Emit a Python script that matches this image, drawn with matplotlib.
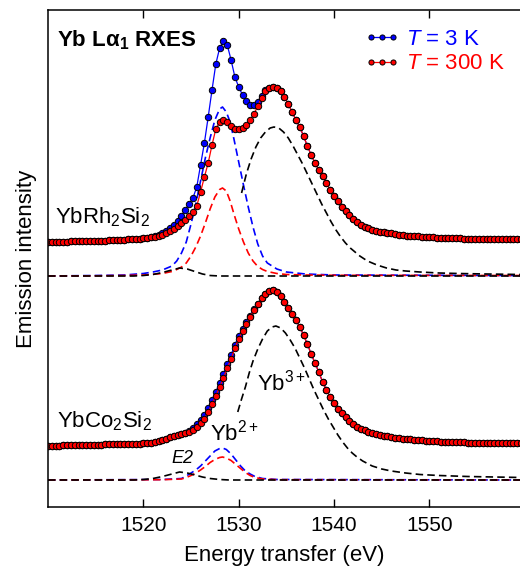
import matplotlib
matplotlib.use("Agg")
import matplotlib.pyplot as plt
from matplotlib.legend_handler import HandlerLine2D
import numpy as np

plt.rcParams["font.family"] = ["Liberation Sans", "DejaVu Sans"]
plt.rcParams["mathtext.fontset"] = "custom"
plt.rcParams["mathtext.rm"] = "Liberation Sans"
plt.rcParams["mathtext.it"] = "Liberation Sans:italic"
plt.rcParams["mathtext.bf"] = "Liberation Sans:bold"

# measured RXES spectra, energy grid of the scan (eV)
energy = np.round(np.arange(1510.0, 1559.7, 0.4), 2)

rh_300k = [
    265.0, 265.0, 265.2, 265.3, 265.3, 265.5, 265.6, 265.6, 265.8, 266.0,
    266.0, 266.1, 266.2, 266.2, 266.4, 266.5, 266.6, 266.8, 267.0, 267.1,
    267.4, 267.6, 267.9, 268.2, 268.5, 268.9, 269.2, 269.6, 270.0, 271.0,
    272.5, 274.0, 276.0, 278.5, 281.0, 284.0, 287.0, 291.0, 295.0, 301.0,
    315, 330, 344, 362, 378, 385, 387, 385, 381, 378.5,
    378, 379.5, 382.5, 387, 393, 401, 409, 416, 419.5, 420,
    419, 416, 410, 403, 395, 387, 380, 371, 361, 352,
    344, 337, 331, 324, 317, 311, 306, 300, 296, 292,
    288, 285, 282.5, 280.5, 279, 277.5, 276.5, 275.5, 274.8, 274.2,
    273.6, 273.0, 272.5, 272.0, 271.5, 271.2, 270.9, 270.6, 270.3, 270.0,
    269.8, 269.6, 269.4, 269.2, 269.0, 268.9, 268.8, 268.7, 268.6, 268.5,
    268.4, 268.4, 268.3, 268.3, 268.2, 268.2, 268.1, 268.1, 268.0, 268.0,
    268.0, 267.9, 267.9, 267.9, 267.8,
]
rh_3k = [
    265.0, 265.0, 265.2, 265.3, 265.3, 265.5, 265.6, 265.6, 265.8, 266.0,
    266.0, 266.1, 266.2, 266.2, 266.4, 266.5, 266.6, 266.8, 267.0, 267.1,
    267.4, 267.6, 267.9, 268.2, 268.5, 269.0, 269.5, 270.0, 271.0, 272.0,
    274, 276, 279, 282.5, 286.5, 291, 297, 303, 309, 320,
    342, 364, 390, 417, 443, 459, 466, 462, 447, 430,
    420, 412, 406, 402.5, 402.5, 405, 411, 417, 419.5, 420,
    419, 416, 410, 403, 395, 387, 380, 371, 361, 352,
    344, 337, 331, 324, 317, 311, 306, 300, 296, 292,
    288, 285, 282.5, 280.5, 279, 277.5, 276.5, 275.5, 274.8, 274.2,
    273.6, 273.0, 272.5, 272.0, 271.5, 271.2, 270.9, 270.6, 270.3, 270.0,
    269.8, 269.6, 269.4, 269.2, 269.0, 268.9, 268.8, 268.7, 268.6, 268.5,
    268.4, 268.4, 268.3, 268.3, 268.2, 268.2, 268.1, 268.1, 268.0, 268.0,
    268.0, 267.9, 267.9, 267.9, 267.8,
]
co_300k = [
    61.3, 61.4, 61.5, 61.5, 61.6, 61.7, 61.8, 61.9, 62.0, 62.0,
    62.1, 62.2, 62.3, 62.4, 62.5, 62.6, 62.7, 62.8, 62.9, 63.0,
    63.1, 63.2, 63.3, 63.4, 63.5, 63.6, 64.0, 64.5, 65.3, 66.3,
    67.5, 68.5, 70.0, 71.0, 72.0, 73.0, 74.0, 75.5, 77.0, 80.0,
    84, 88, 95, 103, 111, 120, 129, 139, 148, 159,
    168, 176, 183, 190, 197, 203, 209, 213, 216, 217,
    215, 211, 205, 199, 193, 187, 180, 172, 163, 153,
    144, 135, 125, 117, 110, 104, 98, 94, 90, 86,
    83, 80.5, 78.5, 77, 75.5, 74.3, 73.2, 72.2, 71.3, 70.6,
    70.0, 69.4, 68.9, 68.4, 68.0, 67.6, 67.2, 66.9, 66.6, 66.3,
    66.0, 65.8, 65.6, 65.4, 65.2, 65.0, 64.9, 64.8, 64.7, 64.6,
    64.5, 64.4, 64.3, 64.3, 64.2, 64.1, 64.1, 64.0, 64.0, 63.9,
    63.9, 63.9, 63.8, 63.8, 63.8,
]
co_3k = [
    61.3, 61.4, 61.5, 61.5, 61.6, 61.7, 61.8, 61.9, 62.0, 62.0,
    62.1, 62.2, 62.3, 62.4, 62.5, 62.6, 62.7, 62.8, 62.9, 63.0,
    63.1, 63.2, 63.3, 63.4, 63.5, 63.6, 64.0, 64.5, 65.3, 66.3,
    67.5, 68.5, 70.0, 71.0, 72.0, 73.0, 74.5, 76.5, 79.0, 83.0,
    87.5, 92, 99, 107, 115, 124, 133, 143, 152, 162,
    171, 178.5, 185, 191.5, 198, 203, 209, 213, 216, 217,
    215, 211, 205, 199, 193, 187, 180, 172, 163, 153,
    144, 135, 125, 117, 110, 104, 98, 94, 90, 86,
    83, 80.5, 78.5, 77, 75.5, 74.3, 73.2, 72.2, 71.3, 70.6,
    70.0, 69.4, 68.9, 68.4, 68.0, 67.6, 67.2, 66.9, 66.6, 66.3,
    66.0, 65.8, 65.6, 65.4, 65.2, 65.0, 64.9, 64.8, 64.7, 64.6,
    64.5, 64.4, 64.3, 64.3, 64.2, 64.1, 64.1, 64.0, 64.0, 63.9,
    63.9, 63.9, 63.8, 63.8, 63.8,
]

# fitted components (dashed)
rh_yb3_e = [1530.3, 1530.8, 1531.3, 1531.8, 1532.3, 1532.8, 1533.3, 1533.7, 1534.2,
            1534.7, 1535.2, 1535.7, 1536.2, 1536.7, 1537.2, 1537.7, 1538.2, 1538.7,
            1539.2, 1539.7, 1540.2, 1540.7, 1541.2, 1541.7, 1542.2, 1542.7, 1543.5,
            1544.5, 1545.5, 1546.5, 1547.5, 1549, 1551, 1553, 1556, 1559.6]
rh_yb3 = [314, 333, 348, 360, 369, 375, 379, 380, 379, 375, 369, 361, 352, 343, 333,
          323, 313, 303, 294, 285, 277, 270, 264, 259, 255, 251, 246, 242, 239, 237,
          236, 235, 234, 233.5, 233, 232.5]

rh_yb2_e = [1510, 1515, 1518, 1520, 1521, 1522, 1523, 1523.5, 1524, 1524.5, 1525,
            1525.5, 1526, 1526.5, 1527, 1527.5, 1528, 1528.3, 1528.7, 1529.1, 1529.5,
            1530, 1530.5, 1531, 1531.5, 1532, 1532.5, 1533, 1534, 1535, 1537, 1540, 1559.6]
rh_yb2_3k = [231, 231.5, 232, 233.5, 235, 237, 241, 246, 254, 265, 283, 303, 326, 349,
             369, 387, 398, 400, 395, 385, 368, 345, 322, 300, 280, 263, 251, 244, 238,
             235, 233, 232, 231.5]
rh_yb2_300k = [231, 231.2, 231.5, 232, 232.7, 233.5, 235.5, 237.5, 240, 244, 251, 260,
               271, 284, 298, 310, 317.5, 319, 316, 306, 293, 278, 265, 254, 246, 240.5,
               237.5, 235.5, 233.5, 232.5, 232, 231.7, 231.5]

e2_e = [1510, 1519, 1520, 1521, 1522, 1523, 1523.8, 1524.6, 1525.4, 1526.2, 1527,
        1528, 1529, 1559.6]
rh_e2 = [231, 231, 231.5, 232.5, 234.5, 237, 239, 238, 235.5, 233, 231.5, 231, 231, 231]

co_yb3_e = [1529.9, 1530.3, 1530.7, 1531.1, 1531.5, 1532.0, 1532.5, 1533.0, 1533.5,
            1533.9, 1534.4, 1534.9, 1535.4, 1535.9, 1536.4, 1536.9, 1537.4, 1537.9,
            1538.4, 1538.9, 1539.4, 1539.9, 1540.4, 1540.9, 1541.4, 1541.9, 1542.4,
            1543.0, 1544.0, 1545.0, 1546.0, 1547.5, 1549, 1551, 1554, 1559.6]
co_yb3 = [95, 108, 120, 134, 146, 158, 168, 176, 180, 181, 179, 174, 167, 159, 149, 139,
          128, 117, 107, 97, 88, 80, 72, 65, 59, 54, 50, 46, 41, 38, 36, 34, 32.5, 31.5,
          30.5, 29.5]

co_yb2_e = [1510, 1522, 1524, 1524.5, 1525, 1525.5, 1526, 1526.5, 1527, 1527.5, 1528,
            1528.3, 1528.7, 1529.2, 1529.7, 1530.2, 1530.7, 1531.2, 1531.7, 1532.5,
            1534, 1559.6]
co_yb2_3k = [27, 27.5, 28.5, 31, 34, 37, 41, 46, 51, 56, 58.5, 59, 57.5, 53, 47, 41, 36,
             33, 30.5, 28.5, 27.5, 27]
co_yb2_300k = [27, 27.3, 28, 29.5, 31.5, 34, 37, 40.5, 44.5, 47.5, 49.5, 50, 49, 46.5,
               42.5, 38.5, 34.5, 31.5, 29.5, 28, 27.3, 27]
co_e2 = [27, 27, 27.5, 28.5, 30.5, 33, 35, 34, 32, 30, 28.5, 27.5, 27, 27]

xticks = [1520, 1530, 1540, 1550]

BLUE = "#0000ff"
RED = "#ff0000"


def main() -> None:
    fig = plt.figure(figsize=(5.2, 5.69), dpi=100)
    ax = fig.add_axes([48 / 520, 62 / 569, 472 / 520, 497 / 569])

    dash = dict(lw=1.2, dashes=(4.5, 2.5))
    for sets in [
        (rh_yb2_e, rh_yb2_3k, BLUE), (rh_yb2_e, rh_yb2_300k, RED),
        (e2_e, rh_e2, "black"), (rh_yb3_e, rh_yb3, "black"),
        (co_yb2_e, co_yb2_3k, BLUE), (co_yb2_e, co_yb2_300k, RED),
        (e2_e, co_e2, "black"), (co_yb3_e, co_yb3, "black"),
    ]:
        ax.plot(sets[0], sets[1], color=sets[2], **dash)

    mk = dict(marker="o", ms=4.6, mec="black", mew=0.7, lw=0.9)
    l3, = ax.plot(energy, rh_3k, color=BLUE, mfc=BLUE, label="$T$ = 3 K", **mk)
    ax.plot(energy, co_3k, color=BLUE, mfc=BLUE, **mk)
    l300, = ax.plot(energy, rh_300k, color=RED, mfc=RED, label="$T$ = 300 K", **mk)
    ax.plot(energy, co_300k, color=RED, mfc=RED, **mk)

    ax.set_xlim(1510, 1559.5)
    ax.set_ylim(0, 497)
    ax.set_xticks(xticks)
    ax.set_yticks([])
    ax.tick_params(axis="x", direction="in", top=True, length=6, width=1.0,
                   labelsize=15, pad=6.5)
    ax.spines["right"].set_visible(False)
    for s in ["left", "top", "bottom"]:
        ax.spines[s].set_linewidth(1.1)

    ax.set_xlabel("Energy transfer (eV)", fontsize=16, labelpad=7)
    ax.set_ylabel("Emission intensity", fontsize=16, labelpad=8)

    ax.text(1510.9, 461, r"Yb Lα$_\mathbf{1}$ RXES", fontsize=16, fontweight="bold")
    ax.text(1510.7, 284, r"YbRh$_2$Si$_2$", fontsize=16)
    ax.text(1510.9, 80, r"YbCo$_2$Si$_2$", fontsize=16)
    ax.text(1527.0, 67, r"Yb$^{2+}$", fontsize=16)
    ax.text(1531.9, 117, r"Yb$^{3+}$", fontsize=16)
    ax.text(1522.9, 44, "E2", fontsize=13, fontstyle="italic")

    ax.legend(handles=[l3, l300], loc="upper left", bbox_to_anchor=(0.68, 0.962),
              frameon=False, fontsize=16, handlelength=1.2, markerscale=0.8,
              handletextpad=0.45, labelspacing=0.16, borderpad=0, borderaxespad=0,
              labelcolor="linecolor",
              handler_map={l3: HandlerLine2D(numpoints=3, marker_pad=0.1),
                           l300: HandlerLine2D(numpoints=3, marker_pad=0.1)})

    fig.savefig("out.png", dpi=100)
    plt.close(fig)


if __name__ == "__main__":
    main()
